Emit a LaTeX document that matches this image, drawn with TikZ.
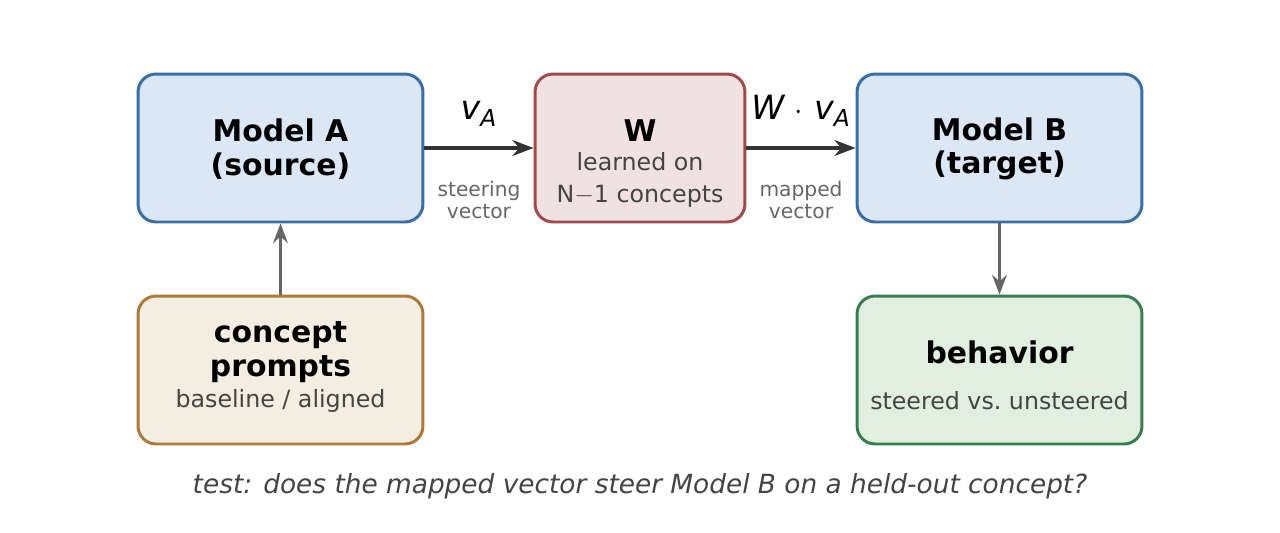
\documentclass[tikz,border=0pt]{standalone}
\usepackage{fontspec}
\setmainfont{DejaVu Sans}
\usepackage{tikz}
\usetikzlibrary{arrows.meta}
\definecolor{blueline}{HTML}{3A6EA5}
\definecolor{bluefill}{HTML}{DCE7F5}
\definecolor{redline}{HTML}{A04B4B}
\definecolor{redfill}{HTML}{F0E2E2}
\definecolor{brownline}{HTML}{AD7A3A}
\definecolor{brownfill}{HTML}{F3EEE1}
\definecolor{greenline}{HTML}{3A7D4E}
\definecolor{greenfill}{HTML}{E1EFE1}
\definecolor{subtext}{HTML}{444444}
\definecolor{notetext}{HTML}{666666}
\newcommand{\vecv}{{\itshape v}\textsubscript{\itshape A}}
\tikzset{
  box/.style={draw, line width=1.7pt, rounded corners=0.36cm, minimum height=2.96cm, align=center, inner sep=0pt},
  title/.style={font=\fontsize{17}{19}\selectfont\bfseries, align=center},
  sub/.style={font=\fontsize{13.5}{13}\selectfont, text=subtext, align=center},
  note/.style={font=\fontsize{11.5}{12.5}\selectfont, text=notetext, align=center},
  flow/.style={->, line width=2pt, draw=black!80},
  feed/.style={->, line width=1.8pt, draw=notetext},
}
\begin{document}
\begin{tikzpicture}[x=0.02cm, y=-0.02cm, >={Stealth[scale=1]}]
      \useasboundingbox (0, 0) rectangle (1280, 532);
      \node[box, draw=blueline, fill=bluefill, minimum width=5.7cm] (modelA) at (280.5, 148) {};
      \node[title] at (280.5, 149) {Model A\\(source)};
      \node[box, draw=redline, fill=redfill, minimum width=4.2cm] (W) at (640, 148) {};
      \node[title] at (640, 131) {W};
      \node[sub] at (640, 180) {learned on\\[5pt]N$-$1 concepts};
      \node[box, draw=blueline, fill=bluefill, minimum width=5.7cm] (modelB) at (999.5, 148) {};
      \node[title] at (999.5, 149) {Model B\\(target)};
      \node[box, draw=brownline, fill=brownfill, minimum width=5.7cm] (prompts) at (280.5, 370) {};
      \node[title] at (280.5, 352) {concept\\prompts};
      \node[sub] at (280.5, 401) {baseline / aligned};
      \node[box, draw=greenline, fill=greenfill, minimum width=5.7cm] (behavior) at (999.5, 370) {};
      \node[title] at (999.5, 352) {behavior};
      \node[sub] at (999.5, 401) {steered vs.\ unsteered};
      \draw[flow] (modelA) -- (W) node[midway, above=8pt, font=\fontsize{19}{19}\selectfont] {\vecv};
      \draw[flow] (W) -- (modelB) node[midway, above=8pt, font=\fontsize{19}{19}\selectfont] {{\itshape W} $\cdot$ \vecv};
      \node[note] at (479, 200) {steering\\vector};
      \node[note] at (801, 200) {mapped\\vector};
      \draw[feed] (prompts) -- (modelA);
      \draw[feed] (modelB) -- (behavior);
      \node[font=\fontsize{15}{15}\selectfont\itshape, text=subtext] at (640, 486) {test: does the mapped vector steer Model B on a held-out concept?};
\end{tikzpicture}
\end{document}
